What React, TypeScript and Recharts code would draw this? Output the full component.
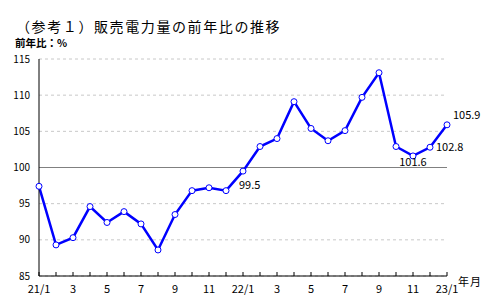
import { LineChart, Line, XAxis, YAxis, CartesianGrid, ReferenceLine, LabelList } from 'recharts';

const months = [
  '21/1', '2', '3', '4', '5', '6', '7', '8', '9', '10', '11', '12',
  '22/1', '2', '3', '4', '5', '6', '7', '8', '9', '10', '11', '12',
  '23/1',
];

const yoy = [
  97.4, 89.3, 90.3, 94.6, 92.4, 93.9, 92.2, 88.6, 93.5, 96.8, 97.2, 96.8,
  99.5, 102.9, 104.0, 109.1, 105.4, 103.7, 105.1, 109.7, 113.1, 102.9, 101.6, 102.8,
  105.9,
];

const yTicks = [85, 90, 95, 100, 105, 110, 115];

// which points get a value label
const labeled = [12, 22, 23, 24];

const data = months.map((m, i) => ({ idx: i, month: m, value: yoy[i] }));

const FONT = '"Noto Sans CJK JP", "Noto Sans", sans-serif';

const MonthTick = (props: any) => {
  const { x, y, payload } = props;
  const i = payload.value;
  return (
    <g>
      <line x1={x} y1={y} x2={x} y2={y - 4} stroke="#000" strokeWidth={1} />
      {i % 2 === 0 && (
        <text x={x} y={y + 17} textAnchor="middle" fontSize={11} fontFamily={FONT} fill="#000">
          {months[i]}
        </text>
      )}
    </g>
  );
};

const ValueLabel = (props: any) => {
  const { x, y, index, value } = props;
  if (!labeled.includes(index)) return null;
  let dx = 6;
  let dy = 4;
  let anchor = 'start';
  if (index === 12) {
    dx = -4;
    dy = 18;
  } else if (index === 22) {
    dx = 0;
    dy = 10;
    anchor = 'middle';
  } else if (index === 24) {
    dy = -6;
  }
  return (
    <text x={x + dx} y={y + dy} textAnchor={anchor} fontSize={11} fontFamily={FONT} fill="#000">
      {value.toFixed(1)}
    </text>
  );
};

export default function App() {
  return (
    <div style={{ position: 'absolute', left: 0, top: 0, width: 495, height: 295, background: '#fff', fontFamily: FONT }}>
      <div style={{ position: 'absolute', left: 16, top: 18, fontSize: 14, lineHeight: '16px', letterSpacing: 1.6, whiteSpace: 'nowrap' }}>
        （参考１）販売電力量の前年比の推移
      </div>
      <div style={{ position: 'absolute', left: 15, top: 37, fontSize: 10.5, lineHeight: '11px', fontWeight: 'bold', whiteSpace: 'nowrap' }}>
        前年比：%
      </div>
      <div style={{ position: 'absolute', left: 458, top: 275, fontSize: 11, lineHeight: '13px', letterSpacing: 1, whiteSpace: 'nowrap' }}>
        年月
      </div>
      <LineChart
        width={495}
        height={295}
        data={data}
        margin={{ top: 59, right: 48, bottom: 0, left: 0 }}
      >
        <CartesianGrid vertical={false} stroke="#c8c8c8" strokeDasharray="3 3" />
        <ReferenceLine y={100} stroke="#808080" strokeWidth={1} />
        <XAxis
          dataKey="idx"
          type="number"
          domain={[0, 24]}
          ticks={months.map((_, i) => i)}
          interval={0}
          height={19}
          axisLine={{ stroke: '#000', strokeWidth: 1 }}
          tickLine={false}
          tickSize={0}
          tickMargin={0}
          tick={<MonthTick />}
        />
        <YAxis
          domain={[85, 115]}
          ticks={yTicks}
          width={39}
          axisLine={{ stroke: '#000', strokeWidth: 1 }}
          tickLine={false}
          tickSize={0}
          tickMargin={9}
          tick={{ fontSize: 10, fill: '#000', fontFamily: FONT }}
        />
        <Line
          type="linear"
          dataKey="value"
          stroke="#0000ff"
          strokeWidth={2.5}
          dot={{ r: 3, fill: '#fff', stroke: '#0000ff', strokeWidth: 1 }}
          isAnimationActive={false}
        >
          <LabelList dataKey="value" content={<ValueLabel />} />
        </Line>
      </LineChart>
    </div>
  );
}
